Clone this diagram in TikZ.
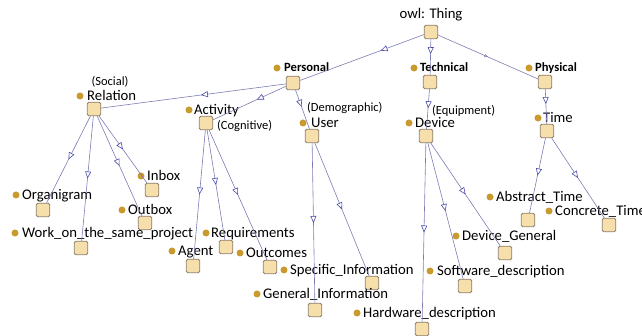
\documentclass[tikz,border=0pt]{standalone}
\usepackage{fontspec}
\setmainfont{Carlito}
\usetikzlibrary{arrows.meta,decorations.markings}
\definecolor{boxfill}{HTML}{F7DFAC}
\definecolor{boxdraw}{HTML}{8C7E6A}
\definecolor{dotcol}{HTML}{C99A2E}
\definecolor{edgecol}{HTML}{7C7CB4}
\definecolor{tipcol}{HTML}{4A4AAA}
\begin{document}
\begin{tikzpicture}[x=1pt,y=-1pt,
 cls/.style={draw=boxdraw, fill=boxfill, minimum size=13.5pt, inner sep=0pt, rounded corners=1.5pt, line width=0.8pt},
 dotnode/.style={circle, fill=dotcol, minimum size=7pt, inner sep=0pt},
 lbl/.style={anchor=base west, inner sep=0pt, font=\fontsize{14.7}{16}\selectfont},
 blbl/.style={anchor=base west, inner sep=0pt, font=\fontsize{12.6}{14}\selectfont\bfseries},
 note/.style={anchor=base west, inner sep=0pt, font=\fontsize{12.5}{14}\selectfont},
 isa/.style={draw=edgecol, line width=0.6pt, postaction={decorate}, decoration={markings, mark=at position #1 with {\arrow{Triangle[length=7pt, width=6pt, color=tipcol, fill=white, line width=0.6pt]}}}},
 isa/.default=0.5,
 isasmall/.style={draw=edgecol, line width=0.6pt, postaction={decorate}, decoration={markings, mark=at position 0.5 with {\arrow{Triangle[length=3.5pt, width=3pt, color=edgecol, fill=white, line width=0.5pt]}}}}]
\useasboundingbox (0,0) rectangle (642,336);

% class boxes
\node[cls] (thing) at (431,32) {};
\node[cls] (personal) at (293,83) {};
\node[cls] (technical) at (430,82) {};
\node[cls] (physical) at (545,82) {};
\node[cls] (relation) at (94,109) {};
\node[cls] (activity) at (206,123) {};
\node[cls] (user) at (312,136) {};
\node[cls] (device) at (426,136) {};
\node[cls] (time) at (547,131) {};
\node[cls] (inbox) at (152,190) {};
\node[cls] (organigram) at (43,210) {};
\node[cls] (outbox) at (145,223) {};
\node[cls] (work) at (81,248) {};
\node[cls] (requirements) at (226,247) {};
\node[cls] (agent) at (193,266) {};
\node[cls] (outcomes) at (270,267) {};
\node[cls] (specific) at (372,283) {};
\node[cls] (general) at (315,310) {};
\node[cls] (hardware) at (422,329) {};
\node[cls] (software) at (465,286) {};
\node[cls] (devgeneral) at (505,253) {};
\node[cls] (abstract) at (528,220) {};
\node[cls] (concrete) at (609,225) {};

% labels
\node[anchor=base, inner sep=0pt, font=\fontsize{14.7}{16}\selectfont] (thingL) at (431,19) {owl: Thing};
\node[dotnode] (personalD) at (277,68) {};
\node[blbl] (personalL) at (284,72) {Personal};
\node[dotnode] (technicalD) at (414,68) {};
\node[blbl] (technicalL) at (420,72) {Technical};
\node[dotnode] (physicalD) at (529,68) {};
\node[blbl] (physicalL) at (535,72) {Physical};
\node[anchor=base, inner sep=0pt, font=\fontsize{12.5}{14}\selectfont] (socialL) at (110,86) {(Social)};
\node[dotnode] (relationD) at (80,96) {};
\node[lbl] (relationL) at (87,100.6) {Relation};
\node[dotnode] (activityD) at (189,110) {};
\node[lbl] (activityL) at (194,114.6) {Activity};
\node[note] (cognitiveL) at (217,130) {(Cognitive)};
\node[note] (demographicL) at (307,112) {(Demographic)};
\node[dotnode] (userD) at (303,123) {};
\node[lbl] (userL) at (311,127.6) {User};
\node[note] (equipmentL) at (432,115) {(Equipment)};
\node[dotnode] (deviceD) at (409,123) {};
\node[lbl] (deviceL) at (415,127.6) {Device};
\node[dotnode] (timeD) at (538,118) {};
\node[lbl] (timeL) at (543,122.6) {Time};
\node[dotnode] (inboxD) at (141,176) {};
\node[lbl] (inboxL) at (147,180.6) {Inbox};
\node[dotnode] (organigramD) at (16,195) {};
\node[lbl] (organigramL) at (22,199.6) {Organigram};
\node[dotnode] (outboxD) at (122,210) {};
\node[lbl] (outboxL) at (128,214.6) {Outbox};
\node[dotnode] (workD) at (15,233) {};
\node[lbl] (workL) at (22,237.6) {Work\_on\_the\_same\_project};
\node[dotnode] (requirementsD) at (206,233) {};
\node[lbl] (requirementsL) at (211,237.6) {Requirements};
\node[dotnode] (agentD) at (172,251) {};
\node[lbl] (agentL) at (178,255.6) {Agent};
\node[dotnode] (outcomesD) at (240,253) {};
\node[lbl] (outcomesL) at (246,257.6) {Outcomes};
\node[dotnode] (specificD) at (284,270) {};
\node[lbl] (specificL) at (290,274.6) {Specific\_Information};
\node[dotnode] (generalD) at (257,294) {};
\node[lbl] (generalL) at (263,298.6) {General\_Information};
\node[dotnode] (hardwareD) at (357,313) {};
\node[lbl] (hardwareL) at (363,317.6) {Hardware\_description};
\node[dotnode] (softwareD) at (430,271) {};
\node[lbl] (softwareL) at (437,275.6) {Software\_description};
\node[dotnode] (devgeneralD) at (456,236) {};
\node[lbl] (devgeneralL) at (462,240.6) {Device\_General};
\node[dotnode] (abstractD) at (490,197) {};
\node[lbl] (abstractL) at (496,201.6) {Abstract\_Time};
\node[dotnode] (concreteD) at (549,211) {};
\node[lbl] (concreteL) at (555,215.6) {Concrete\_Time};

% subclass edges
\draw[isa=0.35] (thing) -- (personal);
\draw[isa=0.42] (thing) -- (technical);
\draw[isasmall] (thing) -- (physical);
\draw[isa=0.46] (personal) -- (relation);
\draw[isa=0.4] (personal) -- (activity);
\draw[isa=0.43] (personal) -- (user);
\draw[isa=0.48] (technical) -- (device);
\draw[isa=0.43] (physical) -- (time);
\draw[isa] (relation) -- (organigram);
\draw[isa] (relation) -- (work);
\draw[isa] (relation) -- (outbox);
\draw[isa] (relation) -- (inbox);
\draw[isa] (activity) -- (agent);
\draw[isa] (activity) -- (requirements);
\draw[isa] (activity) -- (outcomes);
\draw[isa] (user) -- (general);
\draw[isa] (user) -- (specific);
\draw[isa] (device) -- (hardware);
\draw[isa] (device) -- (software);
\draw[isa] (device) -- (devgeneral);
\draw[isa] (time) -- (abstract);
\draw[isa] (time) -- (concrete);
\end{tikzpicture}
\end{document}
